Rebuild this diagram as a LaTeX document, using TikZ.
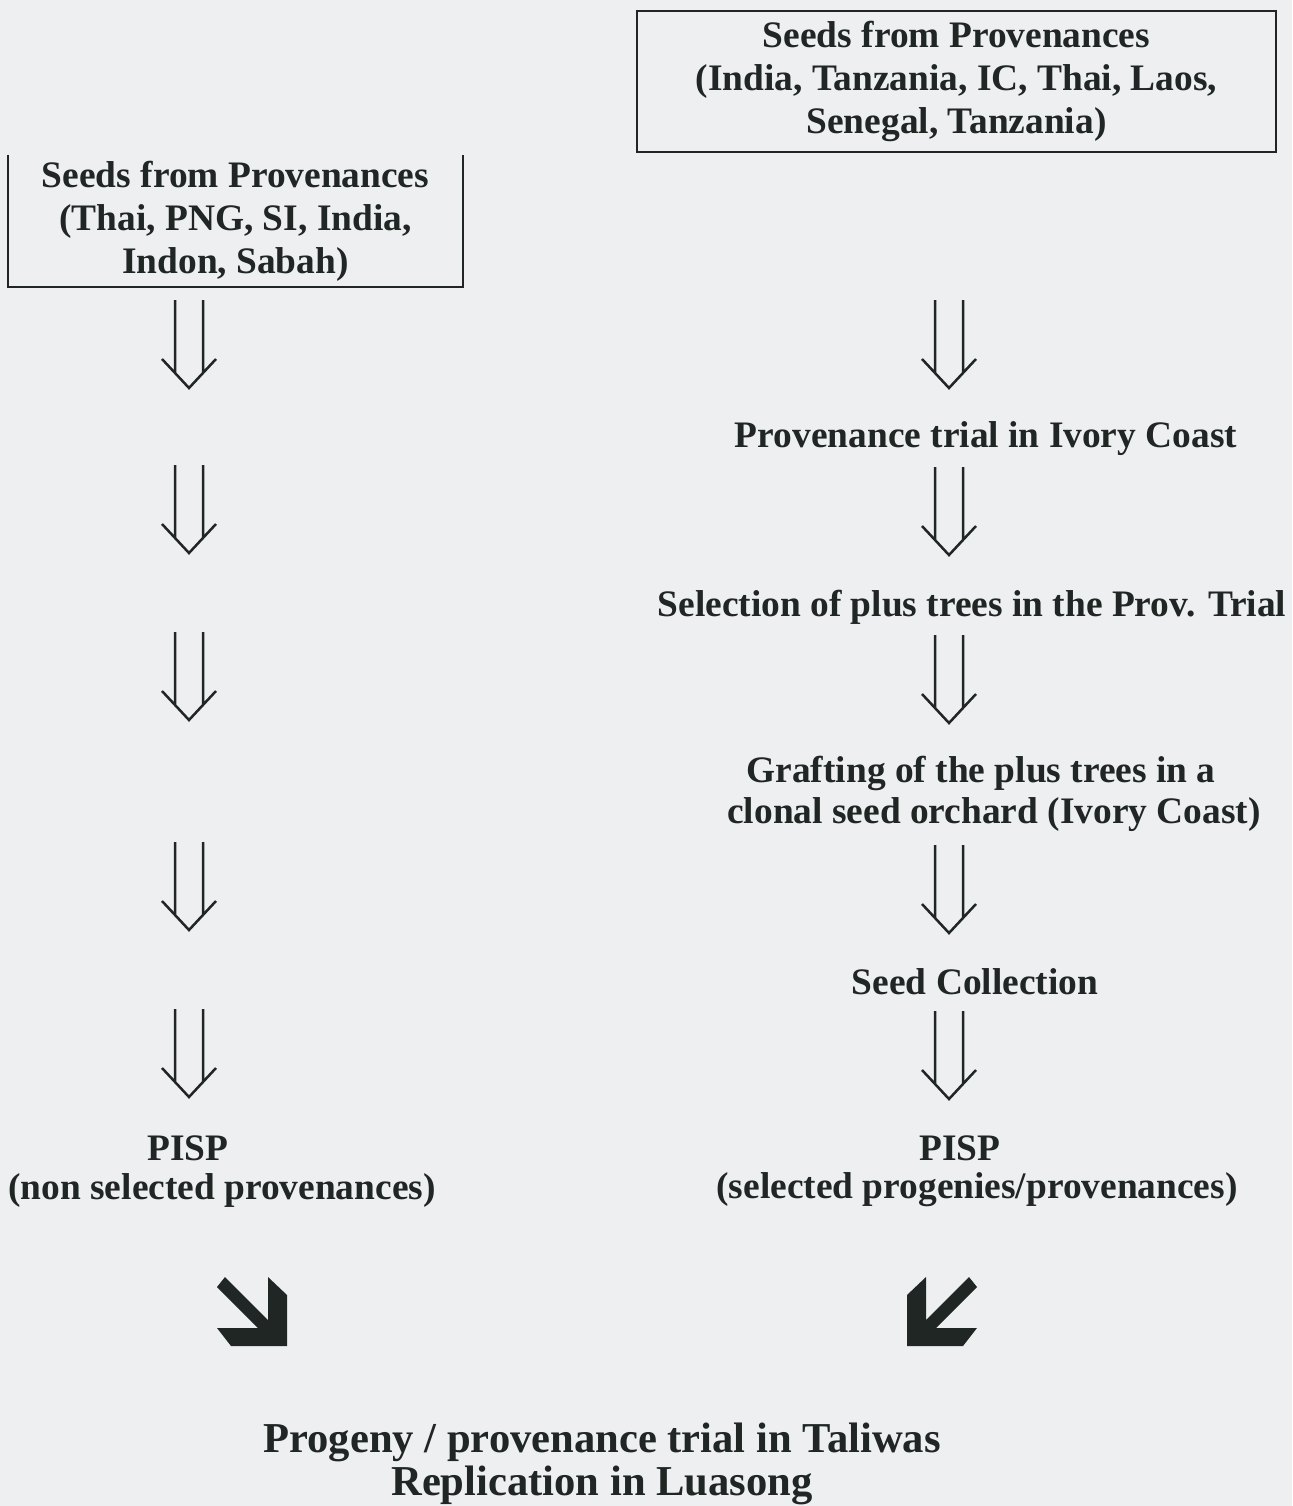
\documentclass[tikz,border=0pt]{standalone}
\usepackage{fontspec}
\setmainfont{Liberation Serif}
\definecolor{bgc}{RGB}{237,239,241}
\definecolor{ink}{RGB}{32,38,35}
\tikzset{
  txt/.style={inner sep=0pt, text=ink, align=center, font=\fontsize{18.7}{21.5}\selectfont\bfseries},
  bigtxt/.style={inner sep=0pt, text=ink, align=center, font=\fontsize{21.3}{21.5}\selectfont\bfseries},
  dbldown/.pic={
    \draw[ink, line width=1.25pt, line join=miter]
      (-14,-88) -- (-14,-16) (14,-88) -- (14,-16)
      (-27,-29) -- (0,0) -- (27,-29);
  },
  boldarrow/.pic={
    \fill[ink] (-62,-69) -- (-19,-26) -- (-19,-69) -- (0,-51) -- (0,0) -- (-56,0)
      -- (-70,-18) -- (-29,-18) -- (-70,-59) -- cycle;
  }
}
\begin{document}
\begin{tikzpicture}[x=0.5pt,y=-0.5pt]
\useasboundingbox (0,0) rectangle (1292,1506);
\fill[bgc] (0,0) rectangle (1292,1506);

% left source box (open at top)
\node[txt, minimum width=227pt, minimum height=66pt] (lsrc) at (235.5,221)
  {Seeds from Provenances\\(Thai, PNG, SI, India,\\Indon, Sabah)};
\draw[ink, line width=1pt] (lsrc.north west) -- (lsrc.south west) -- (lsrc.south east) -- (lsrc.north east);

% right source box
\node[txt, draw=ink, line width=1pt, minimum width=319.5pt, minimum height=70.5pt] (rsrc) at (956.5,81.5)
  {Seeds from Provenances\\(India, Tanzania, IC, Thai, Laos,\\Senegal, Tanzania)};

% left column arrows
\pic at (189,388) {dbldown};
\pic at (189,553) {dbldown};
\pic at (189,720) {dbldown};
\pic at (189,930) {dbldown};
\pic at (189,1097) {dbldown};

% right column
\pic at (949,388) {dbldown};
\node[txt] (prov) at (986,439) {Provenance trial in Ivory Coast};
\pic at (949,555) {dbldown};
\node[txt] (sel) at (972,607) {Selection of plus trees in the Prov. Trial};
\pic at (949,723) {dbldown};
\node[txt] (graftA) at (981,773) {Grafting of the plus trees in a};
\node[txt] (graftB) at (994,815) {clonal seed orchard (Ivory Coast)};
\pic at (949,933) {dbldown};
\node[txt] (coll) at (975,982) {Seed Collection};
\pic at (949,1099) {dbldown};

% PISP nodes
\node[txt] (lpisp) at (188,1148) {PISP};
\node[txt] (lsel) at (222,1190) {(non selected provenances)};
\node[txt] (rpisp) at (960,1148) {PISP};
\node[txt] (rsel) at (977,1190) {(selected progenies/provenances)};

% bold arrows
\pic at (287,1346) {boldarrow};
\pic[xscale=-1] at (907,1346) {boldarrow};

% bottom
\node[bigtxt] (final) at (602,1464) {Progeny / provenance trial in Taliwas\\Replication in Luasong};
\end{tikzpicture}
\end{document}
